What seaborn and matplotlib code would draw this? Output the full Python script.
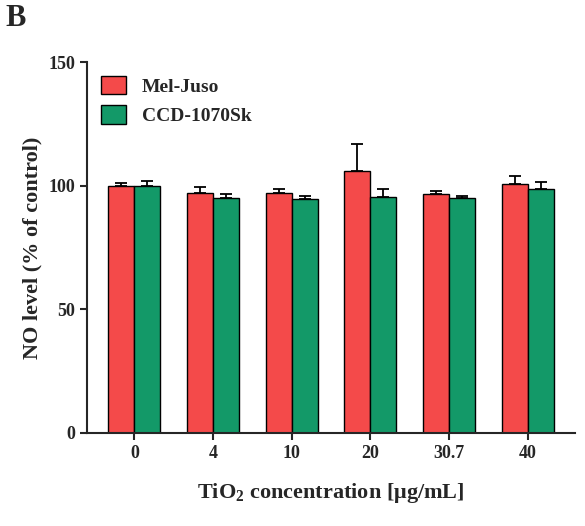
import numpy as np
import pandas as pd
import matplotlib
matplotlib.use("Agg")
import matplotlib.pyplot as plt
import seaborn as sns

concentrations = ["0", "4", "10", "20", "30.7", "40"]
mel_juso = [100, 97, 97, 106, 96.5, 100.5]
mel_juso_sd = [1, 2.5, 1.5, 11, 1.5, 3.5]
ccd = [100, 95, 94.5, 95.5, 95, 98.5]
ccd_sd = [2, 1.5, 1.5, 3, 1, 3]
series = ["Mel-Juso", "CCD-1070Sk"]

sns.set_style("ticks")
plt.rcParams["font.family"] = ["Liberation Serif", "DejaVu Serif"]
plt.rcParams["font.weight"] = "bold"
plt.rcParams["mathtext.fontset"] = "custom"
plt.rcParams["mathtext.rm"] = "Liberation Serif:bold"
plt.rcParams["mathtext.bf"] = "Liberation Serif:bold"

df = pd.DataFrame({
    "conc": concentrations * 2,
    "value": mel_juso + ccd,
    "sd": mel_juso_sd + ccd_sd,
    "line": [series[0]] * 6 + [series[1]] * 6,
})

fig = plt.figure(figsize=(5.85, 5.26), dpi=100)
ax = fig.add_axes([0.149, 0.177, 0.834, 0.705])
sns.barplot(data=df, x="conc", y="value", hue="line", order=concentrations,
            hue_order=series, palette=["#f44a4a", "#139968"], width=0.66,
            saturation=1, edgecolor="black", linewidth=1, errorbar=None, ax=ax)

# upper error bars on each bar
for cont, s in zip(ax.containers, series):
    sd = df[df["line"] == s]["sd"].values
    for patch, e in zip(cont.patches, sd):
        x = patch.get_x() + patch.get_width() / 2
        y = patch.get_height()
        ax.errorbar(x, y, yerr=[[0], [e]], color="black", capsize=4,
                    elinewidth=1.3, capthick=1.3)

ax.set_ylim(0, 150)
ax.set_yticks([0, 50, 100, 150])
ax.set_xlim(-0.6, 5.6)
sns.despine(ax=ax)
for sp in ["left", "bottom"]:
    ax.spines[sp].set_linewidth(1.5)
ax.tick_params(width=1.5, length=5, labelsize=13)
for lab in ax.get_xticklabels() + ax.get_yticklabels():
    lab.set_fontweight("bold")
ax.set_ylabel("NO level (% of control)", fontsize=16, fontweight="bold")
ax.set_xlabel("TiO$_{2}$ concentration [μg/mL]", fontsize=16,
              fontweight="bold", labelpad=14)
leg = ax.legend(loc="upper left", frameon=False, fontsize=14,
                handlelength=1.3, handleheight=1.1, borderaxespad=0.3)
for t in leg.get_texts():
    t.set_fontweight("bold")
fig.text(0.01, 0.965, "B", fontsize=22, fontweight="bold", va="center")

fig.savefig("out.png", dpi=100)
